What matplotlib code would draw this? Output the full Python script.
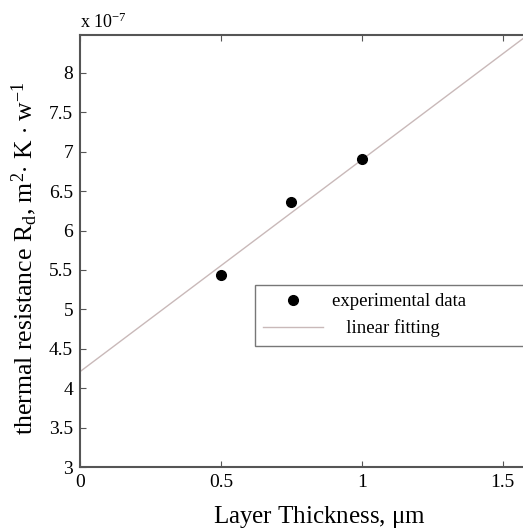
import matplotlib
matplotlib.use('Agg')
import matplotlib.pyplot as plt

# values (y in units of 1e-7)
thickness = [0.5, 0.75, 1.0]
resistance = [5.43, 6.36, 6.91]

fit_x = [0.0, 1.6]
fit_y = [4.21, 8.51]

x_ticks = [0, 0.5, 1, 1.5]
y_ticks = [3, 3.5, 4, 4.5, 5, 5.5, 6, 6.5, 7, 7.5, 8]
y_tick_labels = ['3', '3.5', '4', '4.5', '5', '5.5', '6', '6.5', '7', '7.5', '8']

plt.rcParams['font.family'] = 'Liberation Serif'
plt.rcParams['mathtext.fontset'] = 'custom'
plt.rcParams['mathtext.rm'] = 'Liberation Serif'
plt.rcParams['mathtext.it'] = 'Liberation Serif:italic'

fig = plt.figure(figsize=(5.23, 5.31), dpi=100)
ax = fig.add_axes([0.153, 0.1205, 0.862, 0.8135])

ax.plot(fit_x, fit_y, color='#c9b9b9', lw=1.0, label='   linear fitting', zorder=2)
ax.plot(thickness, resistance, 'o', color='black', ms=7, label='experimental data', zorder=3)

ax.set_xlim(0, 1.6)
ax.set_ylim(3, 8.48)
ax.set_xticks(x_ticks)
ax.set_xticklabels(['0', '0.5', '1', '1.5'])
ax.set_yticks(y_ticks)
ax.set_yticklabels(y_tick_labels)
ax.tick_params(direction='in', length=4, width=0.8, color='#555555', labelsize=14, pad=5)
ax.xaxis.set_ticks_position('both')

for s in ax.spines.values():
    s.set_color('#555555')
    s.set_linewidth(1.5)

ax.text(0.0, 1.008, r'x 10$^{\mathregular{-7}}$', transform=ax.transAxes, fontsize=13, va='bottom', ha='left')

ax.set_xlabel(r'Layer Thickness, $\mathregular{\mu}$m', fontsize=18)
ax.xaxis.set_label_coords(0.532, -0.085)
ax.set_ylabel(r'thermal resistance R$_{\mathregular{d}}$, m$^{\mathregular{2}}$$\cdot$ K $\cdot$ w$^{\mathregular{-1}}$',
              fontsize=18.5)
ax.yaxis.set_label_coords(-0.09, 0.484)

handles, labels = ax.get_legend_handles_labels()
leg = ax.legend(handles[::-1], labels[::-1], loc='upper left',
                bbox_to_anchor=(0.388, 0.28, 0.64, 0.142), mode='expand',
                fontsize=13.5, frameon=True, fancybox=False, handlelength=3.2,
                handletextpad=0.45, borderpad=0.45, labelspacing=0.48, borderaxespad=0)
leg.get_frame().set_edgecolor('#555555')
leg.get_frame().set_linewidth(1.0)

fig.savefig('out.png', dpi=100)
